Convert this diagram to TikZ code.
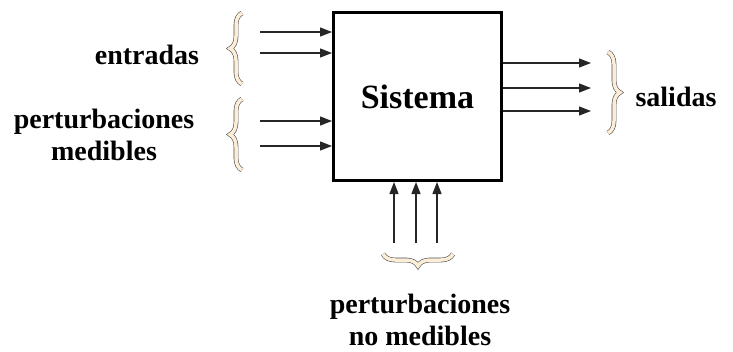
\documentclass[tikz,border=0pt]{standalone}
\usepackage{fontspec}
\setmainfont{Liberation Serif}
\usetikzlibrary{arrows.meta,decorations.pathreplacing}
\definecolor{bracegray}{RGB}{80,80,80}
\definecolor{bracefill}{RGB}{252,237,214}
\tikzset{
  flecha/.style={-{Triangle[length=12pt,width=9pt]}, line width=1.3pt, black!85},
  llave/.style={decorate, decoration={brace, amplitude=#1}, draw=bracegray,
    double=bracefill, double distance=3.5pt, line width=0.6pt},
  etiqueta/.style={font=\fontsize{28}{32}\selectfont\bfseries, align=center, inner sep=0pt},
}
\begin{document}
\begin{tikzpicture}[x=1pt, y=-1pt]
    \useasboundingbox (0,0) rectangle (733,351);
    \node[draw, line width=3pt, minimum width=168pt, minimum height=168pt, inner sep=0pt,
      font=\fontsize{34}{40}\selectfont\bfseries] (sistema) at (417.5,96.5) {Sistema};
    \foreach \y [count=\i] in {32,53,121,146} {
        \coordinate (in\i) at (260,\y);
        \draw[flecha] (in\i) -- (in\i -| sistema.west);
    }
    \foreach \y [count=\i] in {63,88,111} {
        \coordinate (out\i) at (591,\y);
        \draw[flecha] (out\i -| sistema.east) -- (out\i);
    }
    \foreach \x [count=\i] in {394,416,437} {
        \coordinate (pn\i) at (\x,243);
        \draw[flecha] (pn\i) -- (pn\i |- sistema.south);
    }
    \draw[llave=12pt] (242,84) -- (242,13);
    \draw[llave=12pt] (242,170) -- (242,99);
    \draw[llave=12pt] (608,52) -- (608,133);
    \draw[llave=12pt] (453,254) -- (383,254);
    \node[etiqueta] (entradas) at (147,55) {entradas};
    \node[etiqueta] (pmed) at (104,135) {perturbaciones\\medibles};
    \node[etiqueta] (salidas) at (676,97) {salidas};
    \node[etiqueta] (pnomed) at (420,320) {perturbaciones\\no medibles};
\end{tikzpicture}
\end{document}
